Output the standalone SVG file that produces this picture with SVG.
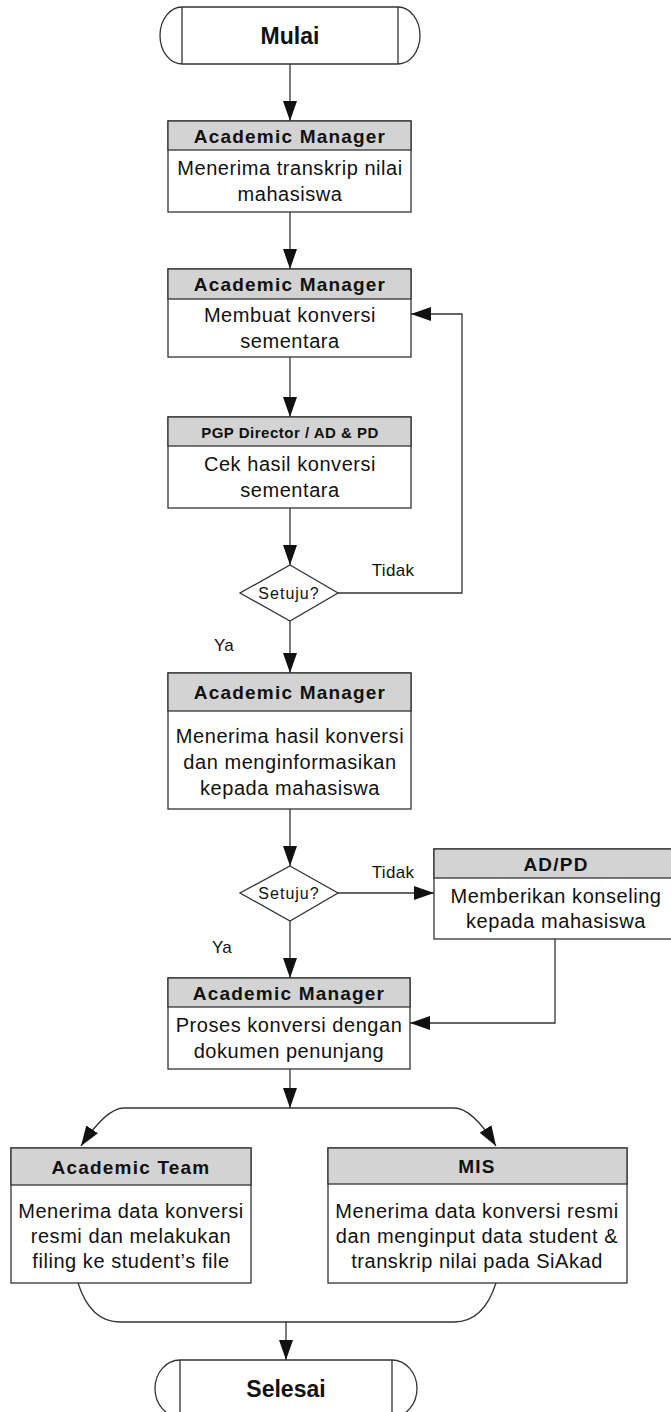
<svg xmlns="http://www.w3.org/2000/svg" width="671" height="1412" viewBox="0 0 671 1412">
<style>
.bg{fill:#fff}
.ln{fill:none;stroke:#333;stroke-width:1.3}
.box{fill:#fff;stroke:#333;stroke-width:1.3}
.hdr{fill:#d3d3d3;stroke:#333;stroke-width:1.3}
text{font-family:"Liberation Sans",Arial,sans-serif;fill:#111;text-anchor:middle;dominant-baseline:central}
.t{font-size:20px;letter-spacing:0.55px}
.h{font-size:19px;font-weight:bold;letter-spacing:1.2px}
.hs{font-size:15px;font-weight:bold;letter-spacing:0.5px}
.term{font-size:23px;font-weight:bold}
.lab{font-size:17px;letter-spacing:0.3px}
.dec{font-size:16px;letter-spacing:1px}
</style>
<defs>
<marker id="ah" markerUnits="userSpaceOnUse" markerWidth="21" markerHeight="14" refX="20" refY="7" orient="auto">
<path d="M0,0 L20,7 L0,14 z" fill="#111"/>
</marker>
</defs>
<rect class="bg" x="0" y="0" width="671" height="1412"/>

<g id="connectors">
<path class="ln" d="M290,64 V121" marker-end="url(#ah)"/>
<path class="ln" d="M290,212 V269" marker-end="url(#ah)"/>
<path class="ln" d="M290,357 V417" marker-end="url(#ah)"/>
<path class="ln" d="M290,508 V565" marker-end="url(#ah)"/>
<path class="ln" d="M338,593 H462 V314 H411" marker-end="url(#ah)"/>
<path class="ln" d="M290,621 V673" marker-end="url(#ah)"/>
<path class="ln" d="M290,809 V866" marker-end="url(#ah)"/>
<path class="ln" d="M338,893 H434" marker-end="url(#ah)"/>
<path class="ln" d="M290,921 V978" marker-end="url(#ah)"/>
<path class="ln" d="M555,939 V1023 H410" marker-end="url(#ah)"/>
<path class="ln" d="M290,1069 V1108" marker-end="url(#ah)"/>
<path class="ln" d="M290,1108 H124 C110,1108 95,1125 81,1146" marker-end="url(#ah)"/>
<path class="ln" d="M290,1108 H454 C468,1108 483,1125 496,1146" marker-end="url(#ah)"/>
<path class="ln" d="M78,1283 C86,1308 100,1322 120,1322 H454 C474,1322 488,1308 496,1283"/>
<path class="ln" d="M286,1322 V1360" marker-end="url(#ah)"/>
<text class="lab" x="393" y="570">Tidak</text>
<text class="lab" x="224" y="645">Ya</text>
<text class="lab" x="393" y="872">Tidak</text>
<text class="lab" x="222" y="947">Ya</text>
</g>

<g id="start">
<rect class="box" x="160" y="7" width="260" height="57" rx="22" ry="28.5"/>
<path class="ln" d="M182,7 V64 M398,7 V64"/>
<text class="term" x="290" y="36">Mulai</text>
</g>

<g id="n1">
<rect class="box" x="168" y="121" width="243" height="91"/>
<rect class="hdr" x="168" y="121" width="243" height="29"/>
<text class="h" x="290" y="136">Academic Manager</text>
<text class="t" x="290" y="168">Menerima transkrip nilai</text>
<text class="t" x="290" y="194">mahasiswa</text>
</g>

<g id="n2">
<rect class="box" x="168" y="269" width="243" height="88"/>
<rect class="hdr" x="168" y="269" width="243" height="30"/>
<text class="h" x="290" y="284">Academic Manager</text>
<text class="t" x="290" y="315">Membuat konversi</text>
<text class="t" x="290" y="341">sementara</text>
</g>

<g id="n3">
<rect class="box" x="168" y="417" width="243" height="91"/>
<rect class="hdr" x="168" y="417" width="243" height="29"/>
<text class="hs" x="290" y="432">PGP Director / AD &amp; PD</text>
<text class="t" x="290" y="464">Cek hasil konversi</text>
<text class="t" x="290" y="490">sementara</text>
</g>

<g id="d1">
<path class="box" d="M290,565 L338,593 L290,621 L240,593 z"/>
<text class="dec" x="289" y="593">Setuju?</text>
</g>

<g id="n4">
<rect class="box" x="168" y="673" width="243" height="136"/>
<rect class="hdr" x="168" y="673" width="243" height="38"/>
<text class="h" x="290" y="692">Academic Manager</text>
<text class="t" x="290" y="736">Menerima hasil konversi</text>
<text class="t" x="290" y="762">dan menginformasikan</text>
<text class="t" x="290" y="788">kepada mahasiswa</text>
</g>

<g id="d2">
<path class="box" d="M290,866 L338,893 L290,921 L240,893 z"/>
<text class="dec" x="289" y="893">Setuju?</text>
</g>

<g id="n5">
<rect class="box" x="434" y="849" width="243" height="90"/>
<rect class="hdr" x="434" y="849" width="243" height="29"/>
<text class="h" x="556" y="864">AD/PD</text>
<text class="t" x="556" y="896">Memberikan konseling</text>
<text class="t" x="556" y="921">kepada mahasiswa</text>
</g>

<g id="n6">
<rect class="box" x="168" y="978" width="242" height="91"/>
<rect class="hdr" x="168" y="978" width="242" height="29"/>
<text class="h" x="289" y="993">Academic Manager</text>
<text class="t" x="289" y="1025">Proses konversi dengan</text>
<text class="t" x="289" y="1051">dokumen penunjang</text>
</g>

<g id="n7">
<rect class="box" x="11" y="1148" width="240" height="135"/>
<rect class="hdr" x="11" y="1148" width="240" height="37"/>
<text class="h" x="131" y="1167">Academic Team</text>
<text class="t" x="131" y="1211">Menerima data konversi</text>
<text class="t" x="131" y="1236">resmi dan melakukan</text>
<text class="t" x="131" y="1261">filing ke student’s file</text>
</g>

<g id="n8">
<rect class="box" x="328" y="1148" width="299" height="135"/>
<rect class="hdr" x="328" y="1148" width="299" height="36"/>
<text class="h" x="477" y="1166">MIS</text>
<text class="t" x="477" y="1211">Menerima data konversi resmi</text>
<text class="t" x="477" y="1236">dan menginput data student &amp;</text>
<text class="t" x="477" y="1261">transkrip nilai pada SiAkad</text>
</g>

<g id="end">
<rect class="box" x="155" y="1360" width="262" height="57" rx="25" ry="28.5"/>
<path class="ln" d="M180,1360 V1417 M392,1360 V1417"/>
<text class="term" x="286" y="1389">Selesai</text>
</g>
</svg>
